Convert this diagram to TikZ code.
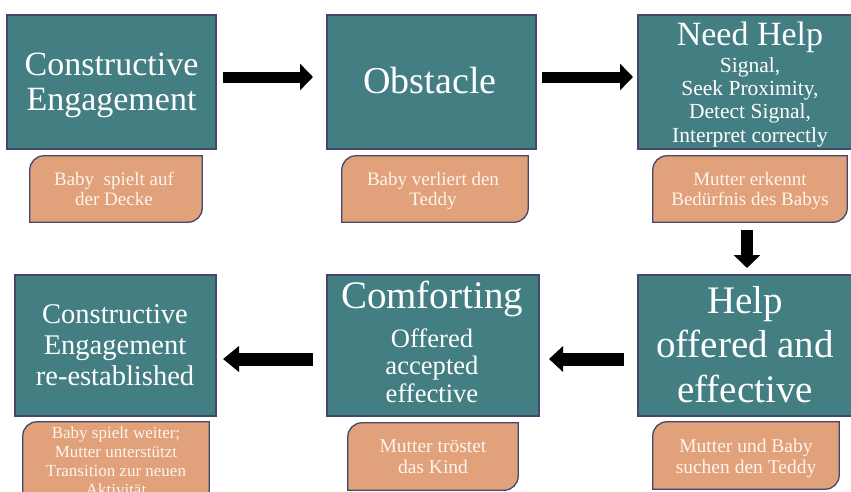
\documentclass[tikz,border=0pt]{standalone}
\usepackage{fontspec}
\setmainfont{Liberation Serif}
\usetikzlibrary{arrows.meta,calc}
\definecolor{teal}{HTML}{437E82}
\definecolor{edge}{HTML}{44466B}
\definecolor{peach}{HTML}{E1A17B}
\definecolor{cream}{HTML}{FFF4EC}
\tikzset{
  mainbox/.style={draw=edge, line width=1.4pt, fill=teal, inner sep=0pt},
  subshape/.style={inner sep=0pt},
  subfill/.style={draw=edge, line width=1.3pt, fill=peach},
  maintxt/.style={text=white, align=center, inner sep=0pt, anchor=base},
  subtxt/.style={text=cream, align=center, inner sep=0pt, anchor=base},
  blockarrow/.style={draw=black, line width=#1},
  blockarrow/.default=11pt
}
\newcommand{\subbox}[1]{%
  \path[subfill] ([yshift=-14pt]#1.north west) to[out=90,in=180] ([xshift=14pt]#1.north west)
    -- (#1.north east) -- ([yshift=14pt]#1.south east) to[out=-90,in=0] ([xshift=-14pt]#1.south east)
    -- (#1.south west) -- cycle;}
\begin{document}
\begin{tikzpicture}[x=1pt,y=-1pt]
\useasboundingbox (0,0) rectangle (851,491);
\clip (0,0) rectangle (851,491);
% main boxes
\node[mainbox, minimum width=209pt, minimum height=134pt] (ce) at (111.5,82) {};
\node[mainbox, minimum width=209pt, minimum height=134pt] (obs) at (431.5,82) {};
\node[mainbox, minimum width=224pt, minimum height=134pt] (need) at (750,82) {};
\node[mainbox, minimum width=216pt, minimum height=141pt] (help) at (746,345.5) {};
\node[mainbox, minimum width=212pt, minimum height=141pt] (comf) at (433,345.5) {};
\node[mainbox, minimum width=201pt, minimum height=141pt] (cer) at (115.5,345.5) {};
% sub boxes
\node[subshape, minimum width=172pt, minimum height=66pt] (s1) at (116,189) {};
\node[subshape, minimum width=186pt, minimum height=66pt] (s2) at (435,189) {};
\node[subshape, minimum width=194pt, minimum height=66pt] (s3) at (750,189) {};
\node[subshape, minimum width=186pt, minimum height=67pt] (s6) at (746,455.5) {};
\node[subshape, minimum width=170pt, minimum height=67pt] (s5) at (433,456.5) {};
\node[subshape, minimum width=186pt, minimum height=83pt] (s4) at (116,463.5) {};
\subbox{s1}\subbox{s2}\subbox{s3}\subbox{s4}\subbox{s5}\subbox{s6}
% texts (anchor base = baseline of last line)
\node[maintxt, font=\fontsize{34}{35}\selectfont] (ceT) at (111.5,110) {Constructive\\Engagement};
\node[maintxt, font=\fontsize{38}{40}\selectfont] (obsT) at (430,93) {Obstacle};
\node[maintxt, font=\fontsize{34}{36}\selectfont] (needT) at (750,45) {Need Help};
\node[maintxt, font=\fontsize{21.5}{23.3}\selectfont] (needB) at (750,142) {Signal,\\Seek Proximity,\\Detect Signal,\\Interpret correctly};
\node[maintxt, font=\fontsize{39}{44.5}\selectfont] (helpT) at (745,402) {Help\\offered and\\effective};
\node[maintxt, font=\fontsize{39}{40}\selectfont] (comfT) at (432,308) {Comforting};
\node[maintxt, font=\fontsize{26.6}{27.5}\selectfont] (comfB) at (432,402) {Offered\\accepted\\effective};
\node[maintxt, font=\fontsize{28.5}{31}\selectfont] (cerT) at (115,385) {Constructive\\Engagement\\re-established};
\node[subtxt, font=\fontsize{19}{20}\selectfont] (s1T) at (114,205) {Baby\ \ spielt auf\\der Decke};
\node[subtxt, font=\fontsize{19}{20}\selectfont] (s2T) at (433,205) {Baby verliert den\\Teddy};
\node[subtxt, font=\fontsize{19}{20}\selectfont] (s3T) at (750,205) {Mutter erkennt\\Bedürfnis des Babys};
\node[subtxt, font=\fontsize{19.5}{21}\selectfont] (s6T) at (746,473) {Mutter und Baby\\suchen den Teddy};
\node[subtxt, font=\fontsize{19.5}{21}\selectfont] (s5T) at (433,473) {Mutter tröstet\\das Kind};
\node[subtxt, font=\fontsize{17}{19}\selectfont] (s4T) at (116,495) {Baby spielt weiter;\\Mutter unterstützt\\Transition zur neuen\\Aktivität};
% arrows
\coordinate (a1s) at (223,77); \coordinate (a1e) at (313,77);
\coordinate (a2s) at (542,77); \coordinate (a2e) at (633,77);
\coordinate (a3s) at (747,230); \coordinate (a3e) at (747,268);
\coordinate (a4s) at (313,359); \coordinate (a4e) at (223,359);
\coordinate (a5s) at (624,359); \coordinate (a5e) at (549,359);
\draw[blockarrow=11pt, -{Triangle[length=13pt,width=26pt]}] (a1s) -- (a1e);
\draw[blockarrow=11pt, -{Triangle[length=13pt,width=26pt]}] (a2s) -- (a2e);
\draw[blockarrow=12pt, -{Triangle[length=13pt,width=26pt]}] (a3s) -- (a3e);
\draw[blockarrow=13pt, -{Triangle[length=16pt,width=25pt]}] (a4s) -- (a4e);
\draw[blockarrow=13pt, -{Triangle[length=14pt,width=25pt]}] (a5s) -- (a5e);
\end{tikzpicture}
\end{document}
